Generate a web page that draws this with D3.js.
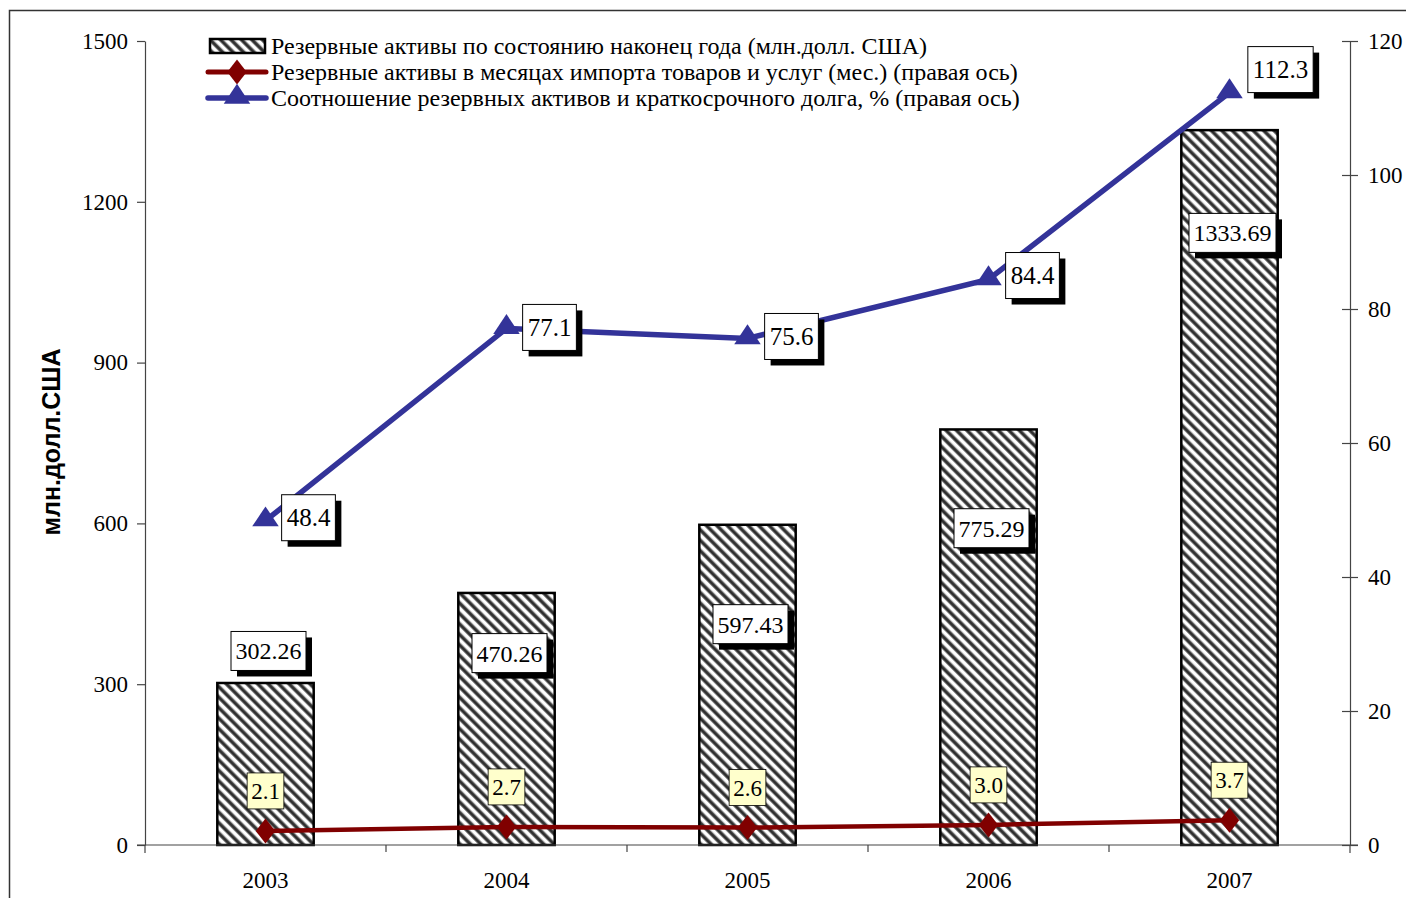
<!DOCTYPE html>
<html><head><meta charset="utf-8">
<script src="https://cdn.jsdelivr.net/npm/d3@7"></script>
<style>body{margin:0;background:#fff}svg{display:block}</style>
</head><body>
<script>
const years = ["2003","2004","2005","2006","2007"];
const reserves = [302.26, 470.26, 597.43, 775.29, 1333.69];
const monthsImport = [2.1, 2.7, 2.6, 3.0, 3.7];
const ratioDebt = [48.4, 77.1, 75.6, 84.4, 112.3];
const leftTicks = [0, 300, 600, 900, 1200, 1500];
const rightTicks = [0, 20, 40, 60, 80, 100, 120];
const reserveLabelAt = [362, 358, 412, 591, 1142]; // label centre, in left-axis units
const ratioLabelNudge = [[43, -3], [43, -1], [44, -2], [44, -4], [51, -23]];
const legendNames = [
  "Резервные активы по состоянию наконец года (млн.долл. США)",
  "Резервные активы в месяцах импорта товаров и услуг (мес.) (правая ось)",
  "Соотношение резервных активов и краткосрочного долга, % (правая ось)"
];
const yTitle = "млн.долл.США";

const W = 1406, H = 898;
const m = {l: 145, r: 1350, t: 41, b: 845};
const serif = "'Liberation Serif','Times New Roman',serif";
const svg = d3.select("body").append("svg").attr("width", W).attr("height", H);

const defs = svg.append("defs");
const pat = defs.append("pattern").attr("id", "hatch").attr("patternUnits", "userSpaceOnUse")
  .attr("width", 7.4).attr("height", 7.4).attr("patternTransform", "rotate(-45)");
pat.append("rect").attr("width", 7.4).attr("height", 7.4).attr("fill", "#fff");
pat.append("rect").attr("x", 0).attr("width", 4.2).attr("height", 7.4).attr("fill", "#8a8a8a");
pat.append("rect").attr("x", 0.8).attr("width", 2.6).attr("height", 7.4).attr("fill", "#2e2e2e");

// outer frame
svg.append("path").attr("d", `M9.5,${H + 5}V10.5H${W + 5}`).attr("fill", "none").attr("stroke", "#333").attr("stroke-width", 1.5);

const xb = d3.scaleBand().domain(years).range([m.l, m.r]);
const yL = d3.scaleLinear().domain([0, 1500]).range([m.b, m.t]);
const yR = d3.scaleLinear().domain([0, 120]).range([m.b, m.t]);
const cx = i => xb(years[i]) + xb.bandwidth() / 2;
const barW = xb.bandwidth() * 0.4;

// bars
svg.append("g").selectAll("rect").data(reserves).join("rect")
  .attr("x", (d, i) => cx(i) - barW / 2)
  .attr("width", barW)
  .attr("y", d => yL(d)).attr("height", d => yL(0) - yL(d))
  .attr("fill", "url(#hatch)").attr("stroke", "#000").attr("stroke-width", 2.5);

// axes
const axL = svg.append("g").attr("transform", `translate(${m.l},0)`)
  .call(d3.axisLeft(yL).tickValues(leftTicks).tickFormat(d3.format("d")).tickSize(8).tickSizeOuter(0));
const axR = svg.append("g").attr("transform", `translate(${m.r},0)`)
  .call(d3.axisRight(yR).tickValues(rightTicks).tickFormat(d3.format("d")).tickSize(16).tickSizeOuter(0));
axR.selectAll(".tick line").attr("x1", -8).attr("x2", 8);
axR.selectAll(".tick text").attr("x", 18);
const axB = svg.append("g").attr("transform", `translate(0,${m.b})`)
  .call(d3.axisBottom(xb).tickSize(0).tickSizeOuter(0));
axB.selectAll(".tick text").attr("y", 43).attr("dy", "0");
// category separator ticks
svg.append("g").selectAll("line").data(years.slice(1)).join("line")
  .attr("x1", d => xb(d)).attr("x2", d => xb(d)).attr("y1", m.b).attr("y2", m.b + 7)
  .attr("stroke", "#444").attr("stroke-width", 1.2);
axL.append("line").attr("y1", m.b).attr("y2", m.b + 8).attr("stroke", "#444").attr("stroke-width", 1.2);
axR.append("line").attr("y1", m.b).attr("y2", m.b + 8).attr("stroke", "#444").attr("stroke-width", 1.2);
axB.select(".domain").attr("d", `M${m.l - 8},0H${m.r + 8}`);
[axL, axR, axB].forEach(a => {
  a.selectAll(".domain, .tick line").attr("stroke", "#444").attr("stroke-width", 1.2);
  a.selectAll("text").attr("font-family", serif).attr("font-size", 23).attr("fill", "#000");
});
axL.selectAll(".tick text").attr("x", -17);

svg.append("text").attr("transform", `translate(60,442) rotate(-90)`).attr("text-anchor", "middle")
  .attr("font-family", "'Liberation Sans',Arial,sans-serif").attr("font-weight", "bold").attr("font-size", 25)
  .text(yTitle);

// red line
const red = "#800000", blue = "#333399";
svg.append("path").datum(monthsImport)
  .attr("d", d3.line().x((d, i) => cx(i)).y(d => yR(d)))
  .attr("fill", "none").attr("stroke", red).attr("stroke-width", 4.5);
const diamond = d3.symbol().type(d3.symbolDiamond).size(180);
svg.append("g").selectAll("path").data(monthsImport).join("path")
  .attr("transform", (d, i) => `translate(${cx(i)},${yR(d)}) scale(1.35,1)`)
  .attr("d", diamond).attr("fill", red);

// blue line
svg.append("path").datum(ratioDebt)
  .attr("d", d3.line().x((d, i) => cx(i)).y(d => yR(d)))
  .attr("fill", "none").attr("stroke", blue).attr("stroke-width", 5.5);
const tri = d3.symbol().type(d3.symbolTriangle).size(230);
svg.append("g").selectAll("path").data(ratioDebt).join("path")
  .attr("transform", (d, i) => `translate(${cx(i)},${yR(d) - 1}) scale(1.15,1)`)
  .attr("d", tri).attr("fill", blue);

// labelled box helper: sized from the measured text
function box(g, cxp, cyp, pad, h, txt, fs, fill, shadow) {
  const gg = g.append("g");
  const t = gg.append("text").attr("x", cxp).attr("y", cyp).attr("dy", "0.35em").attr("text-anchor", "middle")
    .attr("font-family", serif).attr("font-size", fs).attr("fill", "#000").text(txt);
  const w = t.node().getComputedTextLength() + pad;
  if (shadow) gg.insert("rect", "text").attr("x", cxp - w / 2 + 6).attr("y", cyp - h / 2 + 6).attr("width", w).attr("height", h).attr("fill", "#000");
  gg.insert("rect", "text").attr("x", cxp - w / 2).attr("y", cyp - h / 2).attr("width", w).attr("height", h)
    .attr("fill", fill).attr("stroke", "#000").attr("stroke-width", shadow ? 1 : 0.8);
}
const lab = svg.append("g");
reserves.forEach((v, i) => {
  box(lab, cx(i) + 3, yL(reserveLabelAt[i]), 9, 39, d3.format(".2f")(v), 24, "#fff", true);
});
monthsImport.forEach((v, i) => {
  box(lab, cx(i), yR(v) - 40, 8, 36, d3.format(".1f")(v), 23, "#ffffcc", false);
});
ratioDebt.forEach((v, i) => {
  box(lab, cx(i) + ratioLabelNudge[i][0], yR(v) + ratioLabelNudge[i][1], 10, 46, d3.format(".1f")(v), 25, "#fff", true);
});

// legend
const lg = svg.append("g");
const rows = [46, 72, 98];
lg.append("rect").attr("x", 210).attr("y", rows[0] - 7).attr("width", 55).attr("height", 14)
  .attr("fill", "url(#hatch)").attr("stroke", "#000").attr("stroke-width", 2.5);
lg.append("line").attr("x1", 208).attr("x2", 266).attr("y1", rows[1]).attr("y2", rows[1]).attr("stroke", red).attr("stroke-width", 5).attr("stroke-linecap", "round");
lg.append("path").attr("transform", `translate(237,${rows[1]}) scale(1.35,1)`).attr("d", diamond).attr("fill", red);
lg.append("line").attr("x1", 208).attr("x2", 266).attr("y1", rows[2]).attr("y2", rows[2]).attr("stroke", blue).attr("stroke-width", 5.5).attr("stroke-linecap", "round");
lg.append("path").attr("transform", `translate(237,${rows[2] - 1}) scale(1.15,1)`).attr("d", tri).attr("fill", blue);
lg.selectAll("text.lt").data(legendNames).join("text").attr("class", "lt")
  .attr("x", 271).attr("y", (d, i) => rows[i]).attr("dy", "0.35em")
  .attr("font-family", serif).attr("font-size", 24).attr("fill", "#000").text(d => d);
</script>
</body></html>
